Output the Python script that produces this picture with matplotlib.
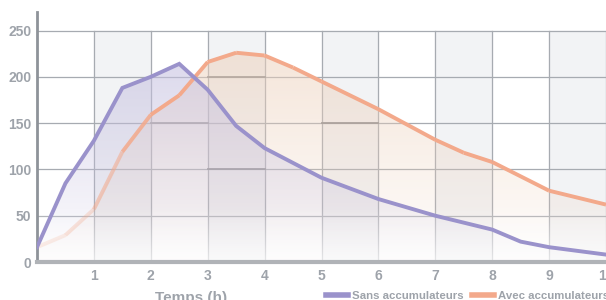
import numpy as np
import matplotlib
matplotlib.use("Agg")
import matplotlib.pyplot as plt
from matplotlib.collections import LineCollection
from matplotlib.lines import Line2D

plt.rcParams['font.family'] = ['Liberation Sans', 'DejaVu Sans']

# data
sans_x = [0, 0.5, 1, 1.5, 2, 2.5, 3, 3.5, 4, 5, 6, 7, 8, 8.5, 9, 10]
sans_y = [16, 85, 131, 188, 200, 214, 186, 147, 123, 91, 68, 50, 35, 22, 16, 8]
avec_x = [0, 0.5, 1, 1.5, 2, 2.5, 3, 3.5, 4, 4.5, 5, 6, 7, 7.5, 8, 9, 10]
avec_y = [16, 29, 57, 119, 159, 180, 216, 226, 223, 210, 195, 165, 132, 118, 108, 77, 62]
x_ticks = [1, 2, 3, 4, 5, 6, 7, 8, 9, 10]
y_ticks = [0, 50, 100, 150, 200, 250]
labels = ['Sans accumulateurs', 'Avec accumulateurs']

purple = '#9a92cb'
orange = '#f3a98b'
grid_c = '#a7abb1'
text_c = '#9ea3aa'

fig = plt.figure(figsize=(6.06, 3.0), dpi=100)
ax = fig.add_axes([37 / 606, 38 / 300, 569 / 606, 250 / 300])
ax.set_xlim(0, 10)
ax.set_ylim(0, 270)

# alternating column bands
for x0 in [1, 3, 5, 7, 9]:
    ax.axvspan(x0, x0 + 1, ymin=0, ymax=250 / 270, color='#f2f3f5', zorder=0)

# grid
for y in y_ticks[1:]:
    ax.plot([0, 10], [y, y], color=grid_c, lw=0.9, zorder=1)
for x in x_ticks:
    ax.plot([x, x], [0, 250], color=grid_c, lw=0.9, zorder=1)

# darker segments on the grid
for (xa, xb, y) in [(2, 3, 150), (3, 4, 200), (5, 6, 150), (3, 4, 100)]:
    ax.plot([xa, xb], [y, y], color='#85878b', lw=1.3, zorder=1.5)


def gradient_fill(xs, ys, top_rgb, alpha_top, alpha_bot, z):
    poly = ax.fill_between(xs, ys, 0, color='none', lw=0)
    img = np.zeros((100, 1, 4))
    img[:, 0, :3] = top_rgb
    img[:, 0, 3] = np.linspace(alpha_top, alpha_bot, 100)
    im = ax.imshow(img, aspect='auto', extent=[0, 10, 0, max(ys)],
                   origin='upper', zorder=z)
    path = poly.get_paths()[0]
    im.set_clip_path(path, transform=ax.transData)


gradient_fill(avec_x, avec_y, (0.93, 0.82, 0.74), 0.55, 0.05, 2)
gradient_fill(sans_x, sans_y, (0.78, 0.76, 0.88), 0.6, 0.05, 2.1)

# bottom haze
img = np.ones((50, 1, 4))
img[:, 0, 3] = np.linspace(0.0, 0.7, 50)
ax.imshow(img, aspect='auto', extent=[0, 10, 0, 60], origin='upper', zorder=2.5)

# lines
ax.plot(sans_x, sans_y, color=purple, lw=2.8, zorder=4, solid_joinstyle='miter')
pts = np.column_stack([avec_x, avec_y])
segs = [pts[i:i + 2] for i in range(len(pts) - 1)]
alphas = [0.2, 0.3, 0.55, 0.85] + [1.0] * (len(segs) - 4)
cols = [matplotlib.colors.to_rgba(orange, a) for a in alphas]
ax.add_collection(LineCollection(segs, colors=cols, linewidths=2.8, zorder=3.5,
                                 capstyle='butt', joinstyle='miter'))

# axes styling
for s in ['top', 'right']:
    ax.spines[s].set_visible(False)
ax.spines['left'].set_color('#8e9399')
ax.spines['left'].set_linewidth(2)
ax.spines['bottom'].set_color('#b0b3b7')
ax.spines['bottom'].set_linewidth(3)
ax.set_xticks(x_ticks)
ax.set_yticks(y_ticks)
ax.tick_params(length=0, colors=text_c, labelsize=10)
for lab in ax.get_xticklabels() + ax.get_yticklabels():
    lab.set_fontweight('bold')
ax.tick_params(axis='y', pad=4)
ax.tick_params(axis='x', pad=5)
ax.set_xlabel('Temps (h)', color=text_c, fontsize=11, fontweight='bold',
              labelpad=4)
ax.xaxis.set_label_coords(0.27, -0.115)

handles = [Line2D([], [], color=purple, lw=4), Line2D([], [], color=orange, lw=4)]
leg = fig.legend(handles, labels, loc='center left', ncol=2, frameon=False,
                 bbox_to_anchor=(318 / 606, 4 / 300), handlelength=1.9,
                 handletextpad=0.35, columnspacing=0.8, borderpad=0.2,
                 prop={'size': 8.2, 'weight': 'bold'})
for t in leg.get_texts():
    t.set_color(text_c)

fig.savefig('out.png', dpi=100)
